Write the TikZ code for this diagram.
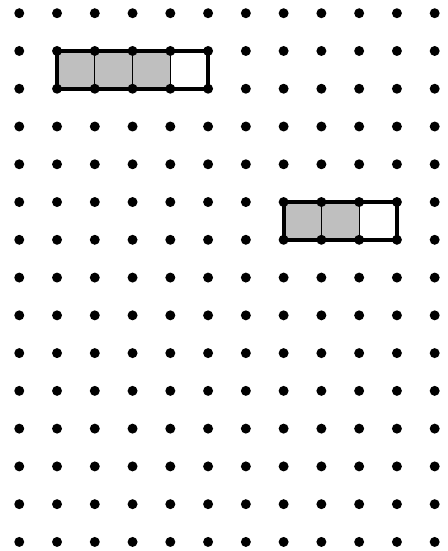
\documentclass[tikz,border=0pt]{standalone}
\usepackage{tikz}
\usetikzlibrary{calc}

\begin{document}
\begin{tikzpicture}[
    dot/.style={circle, fill=black, minimum size=7.5pt, inner sep=0pt},
    cell/.style={fill=black!25, draw=black, line width=0.8pt},
    frame/.style={draw=black, line width=3pt, line join=round}
]
    \useasboundingbox (-0.51,-0.24) rectangle (11.34,14.35);
    % grid points
    \foreach \i in {0,...,11} {
        \foreach \j in {0,...,14} {
            \coordinate (p\i-\j) at (\i,\j);
        }
    }
    % first strip, 3 of 4 shaded
    \foreach \i/\k in {1/2, 2/3, 3/4} {
        \draw[cell] (p\i-13) rectangle (p\k-12);
    }
    \draw[frame] (p1-13) rectangle (p5-12);
    % second strip, 2 of 3 shaded
    \foreach \i/\k in {7/8, 8/9} {
        \draw[cell] (p\i-9) rectangle (p\k-8);
    }
    \draw[frame] (p7-9) rectangle (p10-8);
    % dots
    \foreach \i in {0,...,11} {
        \foreach \j in {0,...,14} {
            \node[dot] (d\i-\j) at (p\i-\j) {};
        }
    }
\end{tikzpicture}
\end{document}
